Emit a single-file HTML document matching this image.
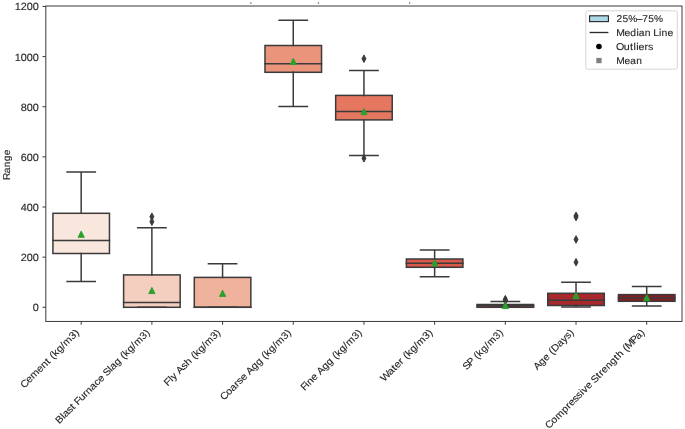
<!DOCTYPE html>
<html><head><meta charset="utf-8"><title>Box plot</title>
<style>html,body{margin:0;padding:0;background:#fff;width:685px;height:429px;overflow:hidden}svg{display:block}text{font-family:"Liberation Sans",sans-serif}</style>
</head><body>
<svg text-rendering="geometricPrecision" width="685" height="429" viewBox="0 0 685 429"><rect x="0" y="0" width="685" height="429" fill="#fff"/>
<rect x="52.92" y="213.3" width="56.55" height="40.2" fill="#f9e6dd" stroke="#3b3b3b" stroke-width="1.5"/>
<path d="M81.19 253.5V281.6M81.19 213.3V172M67.06 281.6H95.33M67.06 172H95.33" stroke="#3b3b3b" stroke-width="1.5" fill="none" stroke-linecap="square"/>
<rect x="123.61" y="274.9" width="56.55" height="32.4" fill="#f4cebe" stroke="#3b3b3b" stroke-width="1.5"/>
<path d="M151.88 307.3V307.3M151.88 274.9V227.8M137.75 307.3H166.02M137.75 227.8H166.02" stroke="#3b3b3b" stroke-width="1.5" fill="none" stroke-linecap="square"/>
<path d="M151.88 212.9L153.88 216.7L151.88 220.5L149.88 216.7Z" fill="#3b3b3b" stroke="#3b3b3b" stroke-width="0.95"/>
<path d="M151.88 217.9L153.88 221.7L151.88 225.5L149.88 221.7Z" fill="#3b3b3b" stroke="#3b3b3b" stroke-width="0.95"/>
<rect x="194.3" y="277.4" width="56.55" height="29.9" fill="#eeb29d" stroke="#3b3b3b" stroke-width="1.5"/>
<path d="M222.57 307.3V307.3M222.57 277.4V263.7M208.43 307.3H236.71M208.43 263.7H236.71" stroke="#3b3b3b" stroke-width="1.5" fill="none" stroke-linecap="square"/>
<rect x="264.99" y="45.5" width="56.55" height="26.8" fill="#ea947c" stroke="#3b3b3b" stroke-width="1.5"/>
<path d="M293.26 72.3V106.6M293.26 45.5V20.3M279.12 106.6H307.4M279.12 20.3H307.4" stroke="#3b3b3b" stroke-width="1.5" fill="none" stroke-linecap="square"/>
<rect x="335.67" y="95.4" width="56.55" height="24.5" fill="#e57760" stroke="#3b3b3b" stroke-width="1.5"/>
<path d="M363.95 119.9V155.5M363.95 95.4V70.4M349.81 155.5H378.09M349.81 70.4H378.09" stroke="#3b3b3b" stroke-width="1.5" fill="none" stroke-linecap="square"/>
<path d="M363.95 54.9L365.95 58.7L363.95 62.5L361.95 58.7Z" fill="#3b3b3b" stroke="#3b3b3b" stroke-width="0.95"/>
<path d="M363.95 154.5L365.95 158.3L363.95 162.1L361.95 158.3Z" fill="#3b3b3b" stroke="#3b3b3b" stroke-width="0.95"/>
<rect x="406.36" y="259" width="56.55" height="8.3" fill="#d9584a" stroke="#3b3b3b" stroke-width="1.5"/>
<path d="M434.64 267.3V276.8M434.64 259V250.1M420.5 276.8H448.78M420.5 250.1H448.78" stroke="#3b3b3b" stroke-width="1.5" fill="none" stroke-linecap="square"/>
<rect x="477.05" y="304.5" width="56.55" height="2.8" fill="#c23c3a" stroke="#3b3b3b" stroke-width="1.5"/>
<path d="M505.33 307.3V307.3M505.33 304.5V301.5M491.19 307.3H519.47M491.19 301.5H519.47" stroke="#3b3b3b" stroke-width="1.5" fill="none" stroke-linecap="square"/>
<path d="M505.33 295.4L507.33 299.2L505.33 303L503.33 299.2Z" fill="#3b3b3b" stroke="#3b3b3b" stroke-width="0.95"/>
<path d="M505.33 296.4L507.33 300.2L505.33 304L503.33 300.2Z" fill="#3b3b3b" stroke="#3b3b3b" stroke-width="0.95"/>
<path d="M505.33 297.1L507.33 300.9L505.33 304.7L503.33 300.9Z" fill="#3b3b3b" stroke="#3b3b3b" stroke-width="0.95"/>
<rect x="547.74" y="293.3" width="56.55" height="12.2" fill="#a7292d" stroke="#3b3b3b" stroke-width="1.5"/>
<path d="M576.02 305.5V307.05M576.02 293.3V282.2M561.88 307.05H590.15M561.88 282.2H590.15" stroke="#3b3b3b" stroke-width="1.5" fill="none" stroke-linecap="square"/>
<path d="M576.02 212L578.02 215.8L576.02 219.6L574.02 215.8Z" fill="#3b3b3b" stroke="#3b3b3b" stroke-width="0.95"/>
<path d="M576.02 213.25L578.02 217.05L576.02 220.85L574.02 217.05Z" fill="#3b3b3b" stroke="#3b3b3b" stroke-width="0.95"/>
<path d="M576.02 235.7L578.02 239.5L576.02 243.3L574.02 239.5Z" fill="#3b3b3b" stroke="#3b3b3b" stroke-width="0.95"/>
<path d="M576.02 258.4L578.02 262.2L576.02 266L574.02 262.2Z" fill="#3b3b3b" stroke="#3b3b3b" stroke-width="0.95"/>
<rect x="618.43" y="294.6" width="56.55" height="6.7" fill="#861d23" stroke="#3b3b3b" stroke-width="1.5"/>
<path d="M646.71 301.3V306.1M646.71 294.6V286.6M632.57 306.1H660.84M632.57 286.6H660.84" stroke="#3b3b3b" stroke-width="1.5" fill="none" stroke-linecap="square"/>
<path d="M52.92 240.6H109.47" stroke="#3b3b3b" stroke-width="1.5" stroke-linecap="square"/>
<path d="M81.19 231.1L84.29 237.3L78.09 237.3Z" fill="#2ca02c" stroke="#2ca02c" stroke-width="0.95" stroke-linejoin="miter"/>
<path d="M123.61 302.6H180.16" stroke="#3b3b3b" stroke-width="1.5" stroke-linecap="square"/>
<path d="M151.88 287.4L154.98 293.6L148.78 293.6Z" fill="#2ca02c" stroke="#2ca02c" stroke-width="0.95" stroke-linejoin="miter"/>
<path d="M194.3 307.3H250.85" stroke="#3b3b3b" stroke-width="1.5" stroke-linecap="square"/>
<path d="M222.57 290.2L225.67 296.4L219.47 296.4Z" fill="#2ca02c" stroke="#2ca02c" stroke-width="0.95" stroke-linejoin="miter"/>
<path d="M264.99 63.7H321.54" stroke="#3b3b3b" stroke-width="1.5" stroke-linecap="square"/>
<path d="M293.26 58.3L296.36 64.5L290.16 64.5Z" fill="#2ca02c" stroke="#2ca02c" stroke-width="0.95" stroke-linejoin="miter"/>
<path d="M335.67 111.5H392.23" stroke="#3b3b3b" stroke-width="1.5" stroke-linecap="square"/>
<path d="M363.95 108.5L367.05 114.7L360.85 114.7Z" fill="#2ca02c" stroke="#2ca02c" stroke-width="0.95" stroke-linejoin="miter"/>
<path d="M406.36 263.2H462.91" stroke="#3b3b3b" stroke-width="1.5" stroke-linecap="square"/>
<path d="M434.64 259.8L437.74 266L431.54 266Z" fill="#2ca02c" stroke="#2ca02c" stroke-width="0.95" stroke-linejoin="miter"/>
<path d="M477.05 305.7H533.6" stroke="#3b3b3b" stroke-width="1.5" stroke-linecap="square"/>
<path d="M505.33 302.4L508.43 308.6L502.23 308.6Z" fill="#2ca02c" stroke="#2ca02c" stroke-width="0.95" stroke-linejoin="miter"/>
<path d="M547.74 300.3H604.29" stroke="#3b3b3b" stroke-width="1.5" stroke-linecap="square"/>
<path d="M576.02 292.5L579.12 298.7L572.92 298.7Z" fill="#2ca02c" stroke="#2ca02c" stroke-width="0.95" stroke-linejoin="miter"/>
<path d="M618.43 297.9H674.98" stroke="#3b3b3b" stroke-width="1.5" stroke-linecap="square"/>
<path d="M646.71 294.5L649.81 300.7L643.61 300.7Z" fill="#2ca02c" stroke="#2ca02c" stroke-width="0.95" stroke-linejoin="miter"/>
<circle cx="250.9" cy="3.1" r="0.75" fill="#555"/>
<circle cx="318.5" cy="3.1" r="0.75" fill="#555"/>
<circle cx="409.6" cy="3.1" r="0.75" fill="#555"/>
<rect x="45.8" y="6.0" width="636.2" height="315.45" fill="none" stroke="#3a3a3a" stroke-width="1.0"/>
<path d="M42.5 307.3H45.8M42.5 257.16H45.8M42.5 207.02H45.8M42.5 156.88H45.8M42.5 106.74H45.8M42.5 56.6H45.8M42.5 6.46H45.8M81.19 321.45V324.75M151.88 321.45V324.75M222.57 321.45V324.75M293.26 321.45V324.75M363.95 321.45V324.75M434.64 321.45V324.75M505.33 321.45V324.75M576.02 321.45V324.75M646.71 321.45V324.75" stroke="#3a3a3a" stroke-width="1.0"/>
<rect x="585.8" y="10.8" width="91.5" height="58.4" rx="2" ry="2" fill="#fff" fill-opacity="0.8" stroke="#cccccc" stroke-width="0.8"/>
<rect x="589.6" y="15.8" width="18.8" height="5.85" fill="#add8e6" stroke="#1a1a1a" stroke-width="1.05"/>
<path d="M589.6 32.5H608.4" stroke="#2a2a2a" stroke-width="1.35"/>
<circle cx="598.95" cy="46.5" r="2.8" fill="#000"/>
<rect x="596.3" y="57.9" width="5.3" height="5.3" fill="#808080"/>
<g font-family="Liberation Sans, sans-serif" font-size="9.9" fill="#262626" stroke="#262626" stroke-width="0.12" opacity="0.999">
<text transform="translate(38.9 311.2) scale(1.0383 1)" x="-5.84" y="0" font-size="10.5">0</text>
<text transform="translate(38.9 261.06) scale(1.0383 1)" x="-17.52 -11.68 -5.84" y="0" font-size="10.5">200</text>
<text transform="translate(38.9 210.92) scale(1.0383 1)" x="-17.52 -11.68 -5.84" y="0" font-size="10.5">400</text>
<text transform="translate(38.9 160.78) scale(1.0383 1)" x="-17.52 -11.68 -5.84" y="0" font-size="10.5">600</text>
<text transform="translate(38.9 110.64) scale(1.0383 1)" x="-17.52 -11.68 -5.84" y="0" font-size="10.5">800</text>
<text transform="translate(38.9 60.5) scale(1.0383 1)" x="-23.36 -17.52 -11.68 -5.84" y="0" font-size="10.5">1000</text>
<text transform="translate(38.9 10.36) scale(1.0383 1)" x="-23.36 -17.52 -11.68 -5.84" y="0" font-size="10.5">1200</text>
<text transform="translate(79.76 333.07) rotate(-45) scale(1.0995 1)" x="-71.52 -65 -59.49 -51.23 -45.81 -39.99 -36.91 -34.12 -30.75 -25.76 -20.17 -17.24 -8.89 -3.34" y="0">Cement (kg/m3)</text>
<text transform="translate(150.45 333.07) rotate(-45) scale(1.0729 1)" x="-120.2 -113.72 -111.42 -106.1 -100.95 -97.79 -95.48 -90.33 -84.58 -81.2 -75.66 -70.22 -65.33 -59.81 -57.5 -51.25 -48.94 -43.4 -37.8 -34.92 -31.45 -26.33 -20.64 -17.57 -9.04 -3.38" y="0">Blast Furnace Slag (kg/m3)</text>
<text transform="translate(221.14 333.07) rotate(-45) scale(1.0809 1)" x="-69.8 -64.11 -61.65 -56.54 -54.05 -47.91 -43.1 -37.53 -34.68 -31.23 -26.16 -20.5 -17.47 -9 -3.37" y="0">Fly Ash (kg/m3)</text>
<text transform="translate(291.83 333.07) rotate(-45) scale(1.0759 1)" x="-89.07 -82.44 -77.02 -71.38 -68.08 -63.32 -57.81 -55.3 -48.91 -43.29 -37.69 -34.83 -31.37 -26.27 -20.59 -17.53 -9.03 -3.38" y="0">Coarse Agg (kg/m3)</text>
<text transform="translate(362.52 333.07) rotate(-45) scale(1.0744 1)" x="-76.4 -71.34 -68.95 -63.41 -57.89 -55.37 -48.98 -43.35 -37.74 -34.88 -31.41 -26.3 -20.61 -17.55 -9.03 -3.38" y="0">Fine Agg (kg/m3)</text>
<text transform="translate(433.21 333.07) rotate(-45) scale(1.0966 1)" x="-63.08 -54.76 -49.01 -46.01 -40.45 -37.01 -34.21 -30.82 -25.82 -20.22 -17.28 -8.91 -3.34" y="0">Water (kg/m3)</text>
<text transform="translate(503.89 333.07) rotate(-45) scale(1.0581 1)" x="-49.95 -44.38 -38.31 -35.39 -31.85 -26.66 -20.91 -17.75 -9.13 -3.41" y="0">SP (kg/m3)</text>
<text transform="translate(574.58 333.07) rotate(-45) scale(1.0639 1)" x="-49.75 -43.3 -37.7 -32.14 -29.24 -25.97 -18.96 -13.29 -8.3 -3.4" y="0">Age (Days)</text>
<text transform="translate(645.27 333.07) rotate(-45) scale(1.0620 1)" x="-128.08 -121.38 -115.64 -107.05 -101.25 -97.95 -92.58 -87.9 -82.94 -80.42 -75.28 -69.72 -67.37 -60.83 -57.5 -54.2 -48.6 -42.91 -36.92 -33.7 -28.05 -25.15 -22 -14.6 -9 -3.4" y="0">Compressive Strength (MPa)</text>
<text transform="translate(9.55 164.6) rotate(-90) scale(1.0265 1)" x="-14.96 -8.33 -2.59 3.25 9" y="0">Range</text>
<text transform="translate(616.41 22.3) scale(1.0299 1)" x="0.15 5.96 11.55 19.81 25 30.81 36.4" y="0">25%–75%</text>
<text transform="translate(616.41 36.1) scale(1.0525 1)" x="-0.27 7.7 13.28 19.01 21.34 26.9 32.53 35.06 40.44 42.86 48.44" y="0">Median Line</text>
<text transform="translate(616.41 49.9) scale(1.0792 1)" x="-0.42 6.86 12.71 15.9 18.32 20.56 26.13 29.36" y="0">Outliers</text>
<text transform="translate(616.41 63.8) scale(1.0342 1)" x="-0.2 7.89 13.47 19.13" y="0">Mean</text>
</g></svg>
</body></html>
